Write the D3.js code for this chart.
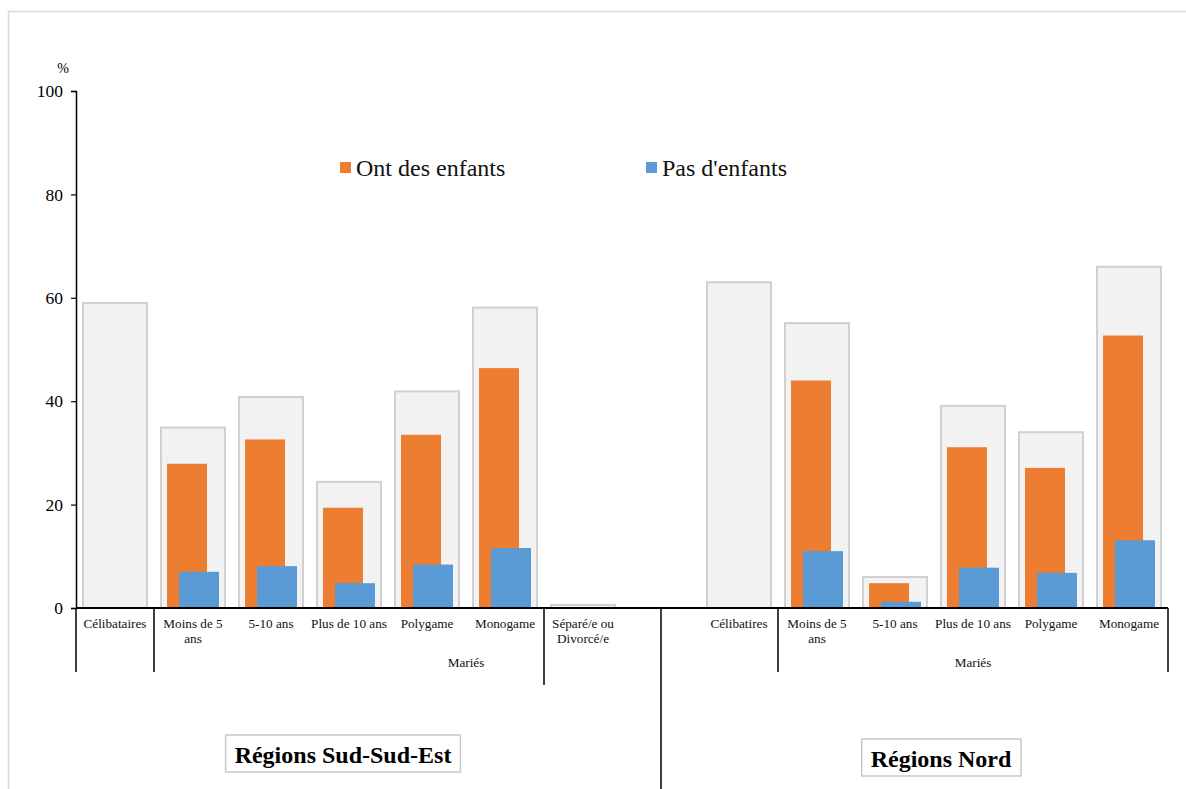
<!DOCTYPE html>
<html>
<head>
<meta charset="utf-8">
<script src="https://cdn.jsdelivr.net/npm/d3@7"></script>
<style>
  html, body { margin: 0; padding: 0; background: #fff; }
  svg { display: block; }
  svg text { font-family: "Liberation Serif", "Times New Roman", serif; }
</style>
</head>
<body>
<svg id="chart" width="1186" height="789"></svg>
<script>
// Category slots along the x axis (the empty slot separates the two regions)
const slots = ["S1", "S2", "S3", "S4", "S5", "S6", "S7", "GAP", "N1", "N2", "N3", "N4", "N5", "N6"];
const slotLabels = [
  ["Célibataires"], ["Moins de 5", "ans"], ["5-10 ans"], ["Plus de 10 ans"], ["Polygame"], ["Monogame"],
  ["Séparé/e ou", "Divorcé/e"], [],
  ["Célibatires"], ["Moins de 5", "ans"], ["5-10 ans"], ["Plus de 10 ans"], ["Polygame"], ["Monogame"]
];
// Overall share per category (grey background bars)
const totalValues = [59.0, 34.9, 40.8, 24.4, 41.9, 58.1, 0.6, null, 63.0, 55.1, 6.0, 39.1, 34.0, 66.0];
// Share with children
const withChildren = [null, 27.9, 32.6, 19.4, 33.5, 46.4, null, null, null, 44.0, 4.8, 31.1, 27.1, 52.7];
// Share without children
const noChildren = [null, 7.0, 8.1, 4.8, 8.4, 11.6, null, null, null, 11.0, 1.2, 7.8, 6.8, 13.1];

const yTicks = [0, 20, 40, 60, 80, 100];
const seriesNames = ["Ont des enfants", "Pas d'enfants"];
const seriesColors = ["#ed7d31", "#5b9bd5"];
const regionNames = ["Régions Sud-Sud-Est", "Régions Nord"];
const groupLabel = "Mariés";

const SERIF = "Liberation Serif, Times New Roman, serif";
const svg = d3.select("#chart");
const W = 1186, H = 789;

// outer frame
svg.append("rect")
  .attr("x", 8.5).attr("y", 11.5).attr("width", W + 20).attr("height", H + 20)
  .attr("fill", "none").attr("stroke", "#d9d9d9").attr("stroke-width", 1.5);

const plotLeft = 76, plotRight = 1168, plotTop = 91, plotBottom = 608;

const x = d3.scaleBand().domain(slots).range([plotLeft, plotRight]).padding(0);
const y = d3.scaleLinear().domain([0, 100]).range([plotBottom, plotTop]);
const bw = x.bandwidth();

// grey total bars
const totalData = slots.map((s, i) => ({ s, v: totalValues[i] })).filter(d => d.v != null);
svg.append("g").selectAll("rect").data(totalData).join("rect")
  .attr("x", d => x(d.s) + bw * 7 / 78)
  .attr("width", bw * 64 / 78)
  .attr("y", d => y(d.v))
  .attr("height", d => y(0) - y(d.v))
  .attr("fill", "#f2f2f2")
  .attr("stroke", "#d0d0d0")
  .attr("stroke-width", 2);

// children / no-children bars
const seriesData = [withChildren, noChildren];
const seriesOffset = [13 / 78, 25 / 78];
seriesData.forEach((vals, k) => {
  const data = slots.map((s, i) => ({ s, v: vals[i] })).filter(d => d.v != null);
  svg.append("g").selectAll("rect").data(data).join("rect")
    .attr("x", d => x(d.s) + bw * seriesOffset[k])
    .attr("width", bw * 40 / 78)
    .attr("y", d => y(d.v))
    .attr("height", d => y(0) - y(d.v))
    .attr("fill", seriesColors[k]);
});

// y axis
const yAxis = d3.axisLeft(y).tickValues(yTicks).tickSize(5).tickPadding(8).tickSizeOuter(5);
const gy = svg.append("g").attr("transform", `translate(${plotLeft},0)`).call(yAxis)
  .attr("font-family", SERIF).attr("font-size", 17.5);
gy.select(".domain").attr("stroke", "#000").attr("stroke-width", 1.5);
gy.selectAll(".tick line").attr("stroke", "#000").attr("stroke-width", 1.2);
gy.selectAll(".tick text").attr("fill", "#000");
svg.append("text").attr("x", 63).attr("y", 73).attr("text-anchor", "middle")
  .attr("font-family", SERIF).attr("font-size", 14).attr("fill", "#000").text("%");

// x axis baseline
svg.append("line")
  .attr("x1", plotLeft).attr("x2", plotRight)
  .attr("y1", y(0)).attr("y2", y(0))
  .attr("stroke", "#000").attr("stroke-width", 2);

// category labels
const catG = svg.append("g").attr("font-family", SERIF).attr("font-size", 13.2)
  .attr("fill", "#111").attr("text-anchor", "middle");
slots.forEach((s, i) => {
  slotLabels[i].forEach((line, j) => {
    catG.append("text")
      .attr("x", x(s) + bw / 2)
      .attr("y", 628 + j * 15)
      .text(line);
  });
});

// multi-level separators
const sepLines = [
  { x: x("S1"), y2: 672 },
  { x: x("S2"), y2: 672 },
  { x: x("S7"), y2: 685 },
  { x: x("GAP") + bw / 2, y2: H },
  { x: x("N2"), y2: 672 },
  { x: plotRight, y2: 672 }
];
svg.append("g").selectAll("line").data(sepLines).join("line")
  .attr("x1", d => d.x).attr("x2", d => d.x)
  .attr("y1", y(0)).attr("y2", d => d.y2)
  .attr("stroke", "#000").attr("stroke-width", 1.5);

// "Mariés" group labels
[x("S6"), (x("N2") + plotRight) / 2].forEach(cx => {
  catG.append("text").attr("x", cx).attr("y", 667).text(groupLabel);
});

// legend
const legendX = [340, 646];
seriesNames.forEach((name, k) => {
  svg.append("rect").attr("x", legendX[k]).attr("y", 162).attr("width", 11).attr("height", 11)
    .attr("fill", seriesColors[k]);
  svg.append("text").attr("x", legendX[k] + 16).attr("y", 176)
    .attr("font-family", SERIF).attr("font-size", 24).attr("fill", "#111").text(name);
});

// region labels in boxes
const regionCenters = [343, 941];
const regionY = [763, 767];
regionNames.forEach((name, k) => {
  const g = svg.append("g");
  const box = g.append("rect");
  const t = g.append("text").attr("x", regionCenters[k]).attr("y", regionY[k])
    .attr("text-anchor", "middle").attr("font-family", SERIF).attr("font-size", 24)
    .attr("font-weight", "bold").attr("fill", "#000").text(name);
  const bb = t.node().getBBox();
  box.attr("x", bb.x - 9).attr("y", regionY[k] - 28)
    .attr("width", bb.width + 18).attr("height", 37)
    .attr("fill", "#fff").attr("stroke", "#c8c8c8").attr("stroke-width", 1.5);
});
</script>
</body>
</html>
